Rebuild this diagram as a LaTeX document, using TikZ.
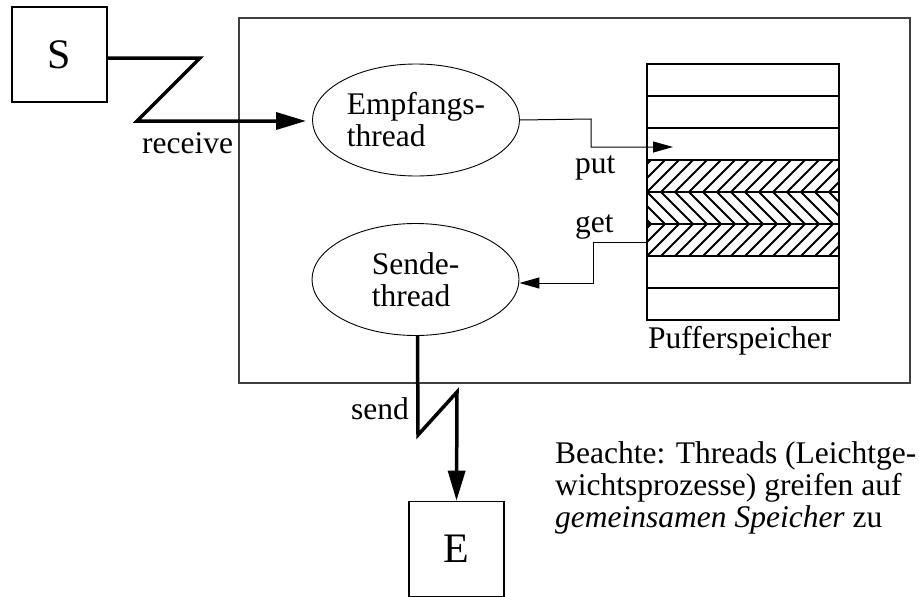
\documentclass[tikz,border=0pt]{standalone}
\usepackage{fontspec}
\setmainfont{Liberation Serif}
\usetikzlibrary{arrows.meta,shapes.geometric}
\begin{document}
\begin{tikzpicture}[x=1pt,y=-1pt,
  txt/.style={font=\fontsize{31.5}{32}\selectfont, inner sep=0pt},
  endbox/.style={draw, line width=1.6pt, minimum size=95pt, inner sep=0pt,
    font=\fontsize{42}{44}\selectfont},
  thr/.style={draw, ellipse, line width=0.9pt, minimum width=207pt,
    minimum height=112pt, inner sep=0pt, align=left,
    font=\fontsize{31.5}{32}\selectfont},
  msg/.style={line width=3.5pt, line join=miter,
    -{Triangle[length=30pt,width=17pt]}},
  acc/.style={line width=1pt, -{Triangle[length=20pt,width=11pt]}},
  row/.style={line width=1.2pt},
  hatch/.style={line width=2pt},
]
\useasboundingbox (0,0) rectangle (919,597);

% process frame
\node[draw, line width=1.2pt, black!75, minimum width=671pt, minimum height=365pt,
  inner sep=0pt] (sys) at (574.5,200.5) {};

% sender and receiver
\node[endbox] (S) at (59.5,54.5) {S};
\node[endbox] (E) at (456.5,549) {E};

% threads
\node[thr] (emp) at (416,120) {Empfangs-\\thread};
\node[thr] (snd) at (415.5,279.5) {Sende-\\thread};

% buffer memory: eight slots, three of them occupied
\node[draw, row, minimum width=192pt, minimum height=256pt, inner sep=0pt]
  (buf) at (743,192) {};
\foreach \y in {96,128,...,288}
  \draw[row] (647,\y) -- (839,\y);
\begin{scope}
  \clip (647,160) rectangle (839,192);
  \foreach \k in {-3,...,14}
    \draw[hatch] (647+\k*14,192) -- ++(32,-32);
\end{scope}
\begin{scope}
  \clip (647,192) rectangle (839,224);
  \foreach \k in {-3,...,14}
    \draw[hatch] (647+\k*14,192) -- ++(32,32);
\end{scope}
\begin{scope}
  \clip (647,224) rectangle (839,256);
  \foreach \k in {-3,...,14}
    \draw[hatch] (647+\k*14,256) -- ++(32,-32);
\end{scope}
\foreach \y in {160,192,224,256}
  \draw[row] (647,\y) -- (839,\y);
\node[txt, anchor=base west] (buflabel) at (648,348) {Pufferspeicher};

% receive message
\coordinate (emptip) at (306,121);
\draw[msg] ([yshift=-3.5pt]S.east) -- (200,58) -- (137,121) -- (emptip);
\node[txt, anchor=base west] (recv) at (142,153) {receive};

% send message
\draw[msg] ([xshift=2pt]snd.south) -- (418,435) -- (457,392) -- (E.north);
\node[txt, anchor=base east] (sendl) at (409,419) {send};

% buffer access
\coordinate (putend) at (673,147);
\coordinate (getstart) at (647,242);
\draw[acc] (emp.east) -- (591,119) -- (591,147) -- (putend);
\draw[acc] (getstart) -- (593,242) -- (593,283) -- (snd.east |- 0,283);
\node[txt, anchor=base west] (putl) at (575,173) {put};
\node[txt, anchor=base west] (getl) at (575,232) {get};

% remark (base anchor sits on the baseline of the last line)
\node[txt, anchor=base west, align=left] (note) at (555,527)
  {Beachte: Threads (Leichtge-\\wichtsprozesse) greifen auf\\
   \textit{gemeinsamen Speicher} zu};
\end{tikzpicture}
\end{document}
